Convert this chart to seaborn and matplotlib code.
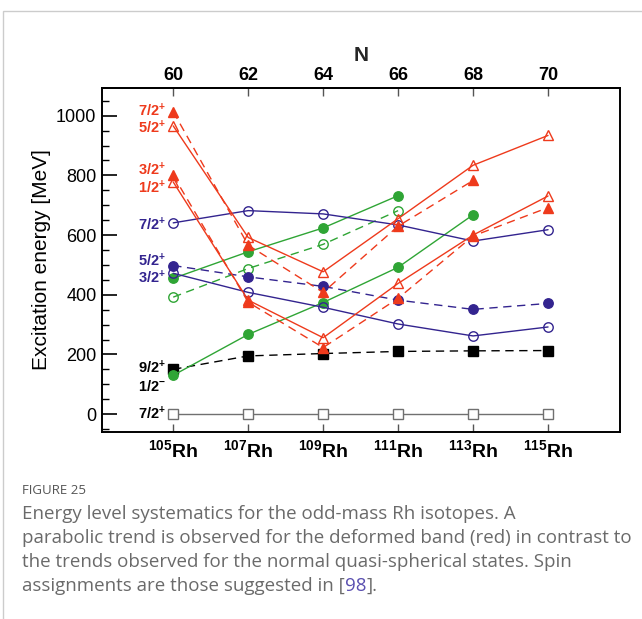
import numpy as np
import pandas as pd
import matplotlib
matplotlib.use("Agg")
import matplotlib.pyplot as plt
import seaborn as sns
from matplotlib.patches import Rectangle
from matplotlib.ticker import MultipleLocator

sns.set_theme(style="white")
plt.rcParams["font.family"] = ["Liberation Sans", "DejaVu Sans"]
plt.rcParams["mathtext.fontset"] = "custom"
plt.rcParams["mathtext.rm"] = "Liberation Sans"
plt.rcParams["mathtext.bf"] = "Liberation Sans:bold"
plt.rcParams["mathtext.it"] = "Liberation Sans:italic"

# ---------------- data ----------------
neutrons = [60, 62, 64, 66, 68, 70]
masses = ["105", "107", "109", "111", "113", "115"]

gs_72p = [0, 0, 0, 0, 0, 0]                       # 7/2+ ground state
black_92p = [150, 195, 203, 210, 212, 213]         # 9/2+
green_12m = [130, 267, 374, 492, 668]              # 1/2- band (filled, solid)
green_upper = [455, 544, 624, 732]                 # green filled, solid
green_open = [392, 488, 569, 682]                  # green open, dashed
blue_72p = [641, 682, 671, 634, 580, 618]          # 7/2+ open, solid
blue_32p = [472, 408, 358, 302, 262, 292]          # 3/2+ open, solid
blue_52p = [498, 460, 428, 382, 351, 371]          # 5/2+ filled, dashed
red_72p = [1014, 566, 408, 630, 783]               # 7/2+ filled, dashed
red_52p = [966, 592, 477, 655, 834, 934]           # 5/2+ open, solid
red_32p = [800, 375, 223, 388, 597, 692]           # 3/2+ filled, dashed
red_12p = [778, 382, 256, 438, 600, 731]           # 1/2+ open, solid

label_texts = [r"$\mathbf{7/2^{+}}$", r"$\mathbf{5/2^{+}}$", r"$\mathbf{3/2^{+}}$", r"$\mathbf{1/2^{+}}$",
               r"$\mathbf{7/2^{+}}$", r"$\mathbf{5/2^{+}}$", r"$\mathbf{3/2^{+}}$",
               r"$\mathbf{9/2^{+}}$", r"$\mathbf{1/2^{-}}$", r"$\mathbf{7/2^{+}}$"]
label_energies = [1016, 960, 818, 760, 635, 515, 457, 156, 92, 0]

RED = "#ee3a1c"
BLUE = "#33248f"
GREEN = "#2fa535"
BLACK = "#000000"
GRAY = "#707070"

DASH = (0, (6, 4))

series = [
    (gs_72p, GRAY, "-", "s", False),
    (black_92p, BLACK, DASH, "s", True),
    (green_12m, GREEN, "-", "o", True),
    (green_upper, GREEN, "-", "o", True),
    (green_open, GREEN, DASH, "o", False),
    (blue_72p, BLUE, "-", "o", False),
    (blue_32p, BLUE, "-", "o", False),
    (blue_52p, BLUE, DASH, "o", True),
    (red_72p, RED, DASH, "^", True),
    (red_52p, RED, "-", "^", False),
    (red_32p, RED, DASH, "^", True),
    (red_12p, RED, "-", "^", False),
]
label_colors = [RED, RED, RED, RED, BLUE, BLUE, BLUE, BLACK, BLACK, BLACK]

# ---------------- figure ----------------
fig = plt.figure(figsize=(6.42, 6.19), dpi=100)
W, H = 642, 619
ax = fig.add_axes([102 / W, 1 - 432 / H, (620 - 102) / W, (432 - 88) / H])

for vals, col, ls, mk, filled in series:
    n = neutrons[:len(vals)]
    fc = col if filled else ("white" if mk == "s" and col == GRAY else "none")
    ms = 7.2 if mk == "^" else 6.8
    sns.lineplot(x=n, y=vals, ax=ax, color=col, linestyle=ls, linewidth=1.0,
                 marker=mk, markersize=ms, markerfacecolor=fc,
                 markeredgecolor=col, markeredgewidth=1.0,
                 estimator=None, sort=False, legend=False)

ax.set_xlim(58.1, 71.92)
ax.set_ylim(-60, 1093)

for sp in ax.spines.values():
    sp.set_color("black")
    sp.set_linewidth(1.4)

ax.yaxis.set_major_locator(MultipleLocator(200))
ax.yaxis.set_minor_locator(MultipleLocator(50))
ax.tick_params(axis="y", which="major", direction="in", length=11, width=1.2,
               color="black", labelsize=13, pad=4, left=True, labelcolor="black")
ax.tick_params(axis="y", which="minor", direction="in", length=5, width=1.0,
               color="black", left=True)
ax.set_xticks(neutrons)
ax.set_xticklabels([r"$^{\mathbf{%s}}\mathbf{Rh}$" % m for m in masses], fontsize=14)
ax.tick_params(axis="x", which="major", direction="in", length=6, width=1.0,
               color="#555555", pad=5, bottom=True, labelcolor="black")
ax.set_ylabel("Excitation energy [MeV]", fontsize=15, color="black")
ax.yaxis.set_label_coords(-0.098, 0.5)

top = ax.secondary_xaxis("top")
top.set_xticks(neutrons)
top.set_xticklabels([str(n) for n in neutrons], fontsize=13, fontweight="bold",
                    family=["Liberation Sans Narrow", "Liberation Sans"])
top.tick_params(axis="x", direction="in", length=6, width=1.0, color="#555555",
                pad=3, labelcolor="black")
top.set_xlabel("N", fontsize=15, fontweight="bold", labelpad=4)

for txt, e, col in zip(label_texts, label_energies, label_colors):
    ax.text(59.8, e, txt, color=col, fontsize=10.5, ha="right", va="center")

# outer frame
fig.patches.append(Rectangle((3 / W, -0.1), 1.2, 1 - 11 / H + 0.1, transform=fig.transFigure,
                             fill=False, edgecolor="#cccccc", linewidth=1.0))

# caption
cap_font = ["Open Sans", "DejaVu Sans"]
cap_col = "#6a6a6a"
cap_size = 13.5
fig.text(22 / W, 1 - 491 / H, "FIGURE 25", fontsize=9.5, color="#555555", va="center",
         family=cap_font)
lines = ["Energy level systematics for the odd-mass Rh isotopes. A",
         "parabolic trend is observed for the deformed band (red) in contrast to",
         "the trends observed for the normal quasi-spherical states. Spin"]
ys = [514, 538, 562]
for ln, y in zip(lines, ys):
    fig.text(22 / W, 1 - y / H, ln, fontsize=cap_size, color=cap_col, va="center",
             family=cap_font)
t1 = fig.text(22 / W, 1 - 586 / H, "assignments are those suggested in [", fontsize=cap_size,
              color=cap_col, va="center", family=cap_font)
fig.canvas.draw()
r = fig.canvas.get_renderer()
x1 = t1.get_window_extent(r).x1 / fig.bbox.width
t2 = fig.text(x1, 1 - 586 / H, "98", fontsize=cap_size, color="#5a4fb0", va="center",
              family=cap_font)
x2 = t2.get_window_extent(r).x1 / fig.bbox.width
fig.text(x2, 1 - 586 / H, "].", fontsize=cap_size, color=cap_col, va="center",
         family=cap_font)

fig.savefig("out.png", dpi=100)
